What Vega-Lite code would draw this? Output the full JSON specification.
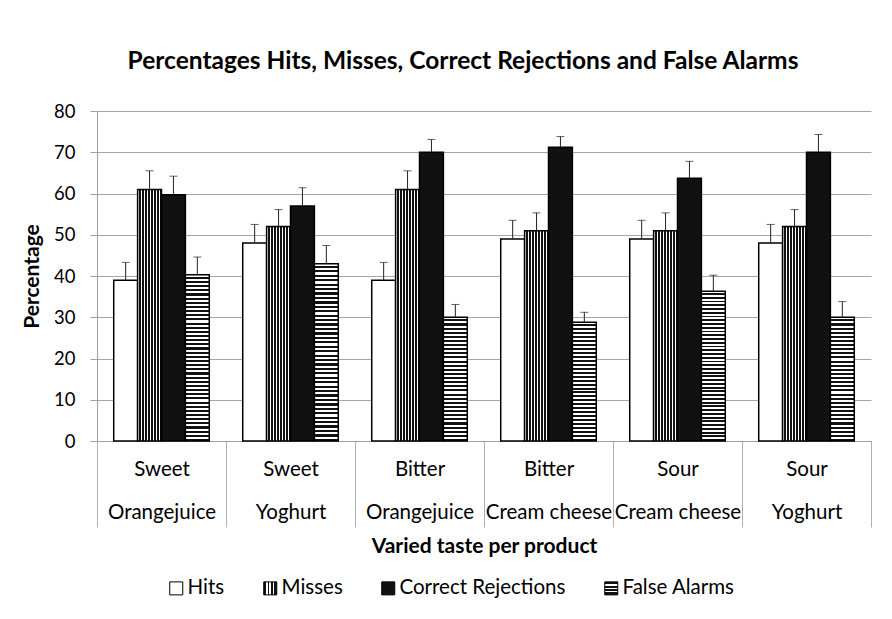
{
  "$schema": "https://vega.github.io/schema/vega-lite/v6.json",
  "width": 774,
  "height": 330,
  "autosize": "none",
  "padding": {"left": 97, "top": 111, "right": 21, "bottom": 178},
  "background": "white",
  "config": {
    "font": "Lato",
    "view": {"stroke": null}
  },
  "title": {
    "text": "Percentages Hits, Misses, Correct Rejections and False Alarms",
    "fontSize": 24.5,
    "fontWeight": "bold",
    "color": "#000",
    "anchor": "middle",
    "frame": "group",
    "dx": -21,
    "offset": 28
  },
  "params": [
    {"name": "gMiss", "value": {"gradient": "linear", "x1": 0, "y1": 0, "x2": 1, "y2": 0, "stops": [
      {"offset": 0, "color": "#fff"}, {"offset": 0.07, "color": "#fff"}, {"offset": 0.07, "color": "#111"}, {"offset": 0.125, "color": "#111"},
      {"offset": 0.125, "color": "#fff"}, {"offset": 0.195, "color": "#fff"}, {"offset": 0.195, "color": "#111"}, {"offset": 0.25, "color": "#111"},
      {"offset": 0.25, "color": "#fff"}, {"offset": 0.32, "color": "#fff"}, {"offset": 0.32, "color": "#111"}, {"offset": 0.375, "color": "#111"},
      {"offset": 0.375, "color": "#fff"}, {"offset": 0.445, "color": "#fff"}, {"offset": 0.445, "color": "#111"}, {"offset": 0.5, "color": "#111"},
      {"offset": 0.5, "color": "#fff"}, {"offset": 0.57, "color": "#fff"}, {"offset": 0.57, "color": "#111"}, {"offset": 0.625, "color": "#111"},
      {"offset": 0.625, "color": "#fff"}, {"offset": 0.695, "color": "#fff"}, {"offset": 0.695, "color": "#111"}, {"offset": 0.75, "color": "#111"},
      {"offset": 0.75, "color": "#fff"}, {"offset": 0.82, "color": "#fff"}, {"offset": 0.82, "color": "#111"}, {"offset": 0.875, "color": "#111"},
      {"offset": 0.875, "color": "#fff"}, {"offset": 0.945, "color": "#fff"}, {"offset": 0.945, "color": "#111"}, {"offset": 1, "color": "#111"}
    ]}},
    {"name": "gFA40", "value": {"gradient": "linear", "x1": 0, "y1": 0, "x2": 0, "y2": 1, "stops": [
      {"offset": 0, "color": "#fff"}, {"offset": 0.0125, "color": "#fff"}, {"offset": 0.0125, "color": "#111"}, {"offset": 0.025, "color": "#111"},
      {"offset": 0.025, "color": "#fff"}, {"offset": 0.0375, "color": "#fff"}, {"offset": 0.0375, "color": "#111"}, {"offset": 0.05, "color": "#111"},
      {"offset": 0.05, "color": "#fff"}, {"offset": 0.0625, "color": "#fff"}, {"offset": 0.0625, "color": "#111"}, {"offset": 0.075, "color": "#111"},
      {"offset": 0.075, "color": "#fff"}, {"offset": 0.0875, "color": "#fff"}, {"offset": 0.0875, "color": "#111"}, {"offset": 0.1, "color": "#111"},
      {"offset": 0.1, "color": "#fff"}, {"offset": 0.1125, "color": "#fff"}, {"offset": 0.1125, "color": "#111"}, {"offset": 0.125, "color": "#111"},
      {"offset": 0.125, "color": "#fff"}, {"offset": 0.1375, "color": "#fff"}, {"offset": 0.1375, "color": "#111"}, {"offset": 0.15, "color": "#111"},
      {"offset": 0.15, "color": "#fff"}, {"offset": 0.1625, "color": "#fff"}, {"offset": 0.1625, "color": "#111"}, {"offset": 0.175, "color": "#111"},
      {"offset": 0.175, "color": "#fff"}, {"offset": 0.1875, "color": "#fff"}, {"offset": 0.1875, "color": "#111"}, {"offset": 0.2, "color": "#111"},
      {"offset": 0.2, "color": "#fff"}, {"offset": 0.2125, "color": "#fff"}, {"offset": 0.2125, "color": "#111"}, {"offset": 0.225, "color": "#111"},
      {"offset": 0.225, "color": "#fff"}, {"offset": 0.2375, "color": "#fff"}, {"offset": 0.2375, "color": "#111"}, {"offset": 0.25, "color": "#111"},
      {"offset": 0.25, "color": "#fff"}, {"offset": 0.2625, "color": "#fff"}, {"offset": 0.2625, "color": "#111"}, {"offset": 0.275, "color": "#111"},
      {"offset": 0.275, "color": "#fff"}, {"offset": 0.2875, "color": "#fff"}, {"offset": 0.2875, "color": "#111"}, {"offset": 0.3, "color": "#111"},
      {"offset": 0.3, "color": "#fff"}, {"offset": 0.3125, "color": "#fff"}, {"offset": 0.3125, "color": "#111"}, {"offset": 0.325, "color": "#111"},
      {"offset": 0.325, "color": "#fff"}, {"offset": 0.3375, "color": "#fff"}, {"offset": 0.3375, "color": "#111"}, {"offset": 0.35, "color": "#111"},
      {"offset": 0.35, "color": "#fff"}, {"offset": 0.3625, "color": "#fff"}, {"offset": 0.3625, "color": "#111"}, {"offset": 0.375, "color": "#111"},
      {"offset": 0.375, "color": "#fff"}, {"offset": 0.3875, "color": "#fff"}, {"offset": 0.3875, "color": "#111"}, {"offset": 0.4, "color": "#111"},
      {"offset": 0.4, "color": "#fff"}, {"offset": 0.4125, "color": "#fff"}, {"offset": 0.4125, "color": "#111"}, {"offset": 0.425, "color": "#111"},
      {"offset": 0.425, "color": "#fff"}, {"offset": 0.4375, "color": "#fff"}, {"offset": 0.4375, "color": "#111"}, {"offset": 0.45, "color": "#111"},
      {"offset": 0.45, "color": "#fff"}, {"offset": 0.4625, "color": "#fff"}, {"offset": 0.4625, "color": "#111"}, {"offset": 0.475, "color": "#111"},
      {"offset": 0.475, "color": "#fff"}, {"offset": 0.4875, "color": "#fff"}, {"offset": 0.4875, "color": "#111"}, {"offset": 0.5, "color": "#111"},
      {"offset": 0.5, "color": "#fff"}, {"offset": 0.5125, "color": "#fff"}, {"offset": 0.5125, "color": "#111"}, {"offset": 0.525, "color": "#111"},
      {"offset": 0.525, "color": "#fff"}, {"offset": 0.5375, "color": "#fff"}, {"offset": 0.5375, "color": "#111"}, {"offset": 0.55, "color": "#111"},
      {"offset": 0.55, "color": "#fff"}, {"offset": 0.5625, "color": "#fff"}, {"offset": 0.5625, "color": "#111"}, {"offset": 0.575, "color": "#111"},
      {"offset": 0.575, "color": "#fff"}, {"offset": 0.5875, "color": "#fff"}, {"offset": 0.5875, "color": "#111"}, {"offset": 0.6, "color": "#111"},
      {"offset": 0.6, "color": "#fff"}, {"offset": 0.6125, "color": "#fff"}, {"offset": 0.6125, "color": "#111"}, {"offset": 0.625, "color": "#111"},
      {"offset": 0.625, "color": "#fff"}, {"offset": 0.6375, "color": "#fff"}, {"offset": 0.6375, "color": "#111"}, {"offset": 0.65, "color": "#111"},
      {"offset": 0.65, "color": "#fff"}, {"offset": 0.6625, "color": "#fff"}, {"offset": 0.6625, "color": "#111"}, {"offset": 0.675, "color": "#111"},
      {"offset": 0.675, "color": "#fff"}, {"offset": 0.6875, "color": "#fff"}, {"offset": 0.6875, "color": "#111"}, {"offset": 0.7, "color": "#111"},
      {"offset": 0.7, "color": "#fff"}, {"offset": 0.7125, "color": "#fff"}, {"offset": 0.7125, "color": "#111"}, {"offset": 0.725, "color": "#111"},
      {"offset": 0.725, "color": "#fff"}, {"offset": 0.7375, "color": "#fff"}, {"offset": 0.7375, "color": "#111"}, {"offset": 0.75, "color": "#111"},
      {"offset": 0.75, "color": "#fff"}, {"offset": 0.7625, "color": "#fff"}, {"offset": 0.7625, "color": "#111"}, {"offset": 0.775, "color": "#111"},
      {"offset": 0.775, "color": "#fff"}, {"offset": 0.7875, "color": "#fff"}, {"offset": 0.7875, "color": "#111"}, {"offset": 0.8, "color": "#111"},
      {"offset": 0.8, "color": "#fff"}, {"offset": 0.8125, "color": "#fff"}, {"offset": 0.8125, "color": "#111"}, {"offset": 0.825, "color": "#111"},
      {"offset": 0.825, "color": "#fff"}, {"offset": 0.8375, "color": "#fff"}, {"offset": 0.8375, "color": "#111"}, {"offset": 0.85, "color": "#111"},
      {"offset": 0.85, "color": "#fff"}, {"offset": 0.8625, "color": "#fff"}, {"offset": 0.8625, "color": "#111"}, {"offset": 0.875, "color": "#111"},
      {"offset": 0.875, "color": "#fff"}, {"offset": 0.8875, "color": "#fff"}, {"offset": 0.8875, "color": "#111"}, {"offset": 0.9, "color": "#111"},
      {"offset": 0.9, "color": "#fff"}, {"offset": 0.9125, "color": "#fff"}, {"offset": 0.9125, "color": "#111"}, {"offset": 0.925, "color": "#111"},
      {"offset": 0.925, "color": "#fff"}, {"offset": 0.9375, "color": "#fff"}, {"offset": 0.9375, "color": "#111"}, {"offset": 0.95, "color": "#111"},
      {"offset": 0.95, "color": "#fff"}, {"offset": 0.9625, "color": "#fff"}, {"offset": 0.9625, "color": "#111"}, {"offset": 0.975, "color": "#111"},
      {"offset": 0.975, "color": "#fff"}, {"offset": 0.9875, "color": "#fff"}, {"offset": 0.9875, "color": "#111"}, {"offset": 1, "color": "#111"}
    ]}},
    {"name": "gFA30", "value": {"gradient": "linear", "x1": 0, "y1": 0, "x2": 0, "y2": 1, "stops": [
      {"offset": 0, "color": "#fff"}, {"offset": 0.0167, "color": "#fff"}, {"offset": 0.0167, "color": "#111"}, {"offset": 0.0333, "color": "#111"},
      {"offset": 0.0333, "color": "#fff"}, {"offset": 0.05, "color": "#fff"}, {"offset": 0.05, "color": "#111"}, {"offset": 0.0667, "color": "#111"},
      {"offset": 0.0667, "color": "#fff"}, {"offset": 0.0833, "color": "#fff"}, {"offset": 0.0833, "color": "#111"}, {"offset": 0.1, "color": "#111"},
      {"offset": 0.1, "color": "#fff"}, {"offset": 0.1167, "color": "#fff"}, {"offset": 0.1167, "color": "#111"}, {"offset": 0.1333, "color": "#111"},
      {"offset": 0.1333, "color": "#fff"}, {"offset": 0.15, "color": "#fff"}, {"offset": 0.15, "color": "#111"}, {"offset": 0.1667, "color": "#111"},
      {"offset": 0.1667, "color": "#fff"}, {"offset": 0.1833, "color": "#fff"}, {"offset": 0.1833, "color": "#111"}, {"offset": 0.2, "color": "#111"},
      {"offset": 0.2, "color": "#fff"}, {"offset": 0.2167, "color": "#fff"}, {"offset": 0.2167, "color": "#111"}, {"offset": 0.2333, "color": "#111"},
      {"offset": 0.2333, "color": "#fff"}, {"offset": 0.25, "color": "#fff"}, {"offset": 0.25, "color": "#111"}, {"offset": 0.2667, "color": "#111"},
      {"offset": 0.2667, "color": "#fff"}, {"offset": 0.2833, "color": "#fff"}, {"offset": 0.2833, "color": "#111"}, {"offset": 0.3, "color": "#111"},
      {"offset": 0.3, "color": "#fff"}, {"offset": 0.3167, "color": "#fff"}, {"offset": 0.3167, "color": "#111"}, {"offset": 0.3333, "color": "#111"},
      {"offset": 0.3333, "color": "#fff"}, {"offset": 0.35, "color": "#fff"}, {"offset": 0.35, "color": "#111"}, {"offset": 0.3667, "color": "#111"},
      {"offset": 0.3667, "color": "#fff"}, {"offset": 0.3833, "color": "#fff"}, {"offset": 0.3833, "color": "#111"}, {"offset": 0.4, "color": "#111"},
      {"offset": 0.4, "color": "#fff"}, {"offset": 0.4167, "color": "#fff"}, {"offset": 0.4167, "color": "#111"}, {"offset": 0.4333, "color": "#111"},
      {"offset": 0.4333, "color": "#fff"}, {"offset": 0.45, "color": "#fff"}, {"offset": 0.45, "color": "#111"}, {"offset": 0.4667, "color": "#111"},
      {"offset": 0.4667, "color": "#fff"}, {"offset": 0.4833, "color": "#fff"}, {"offset": 0.4833, "color": "#111"}, {"offset": 0.5, "color": "#111"},
      {"offset": 0.5, "color": "#fff"}, {"offset": 0.5167, "color": "#fff"}, {"offset": 0.5167, "color": "#111"}, {"offset": 0.5333, "color": "#111"},
      {"offset": 0.5333, "color": "#fff"}, {"offset": 0.55, "color": "#fff"}, {"offset": 0.55, "color": "#111"}, {"offset": 0.5667, "color": "#111"},
      {"offset": 0.5667, "color": "#fff"}, {"offset": 0.5833, "color": "#fff"}, {"offset": 0.5833, "color": "#111"}, {"offset": 0.6, "color": "#111"},
      {"offset": 0.6, "color": "#fff"}, {"offset": 0.6167, "color": "#fff"}, {"offset": 0.6167, "color": "#111"}, {"offset": 0.6333, "color": "#111"},
      {"offset": 0.6333, "color": "#fff"}, {"offset": 0.65, "color": "#fff"}, {"offset": 0.65, "color": "#111"}, {"offset": 0.6667, "color": "#111"},
      {"offset": 0.6667, "color": "#fff"}, {"offset": 0.6833, "color": "#fff"}, {"offset": 0.6833, "color": "#111"}, {"offset": 0.7, "color": "#111"},
      {"offset": 0.7, "color": "#fff"}, {"offset": 0.7167, "color": "#fff"}, {"offset": 0.7167, "color": "#111"}, {"offset": 0.7333, "color": "#111"},
      {"offset": 0.7333, "color": "#fff"}, {"offset": 0.75, "color": "#fff"}, {"offset": 0.75, "color": "#111"}, {"offset": 0.7667, "color": "#111"},
      {"offset": 0.7667, "color": "#fff"}, {"offset": 0.7833, "color": "#fff"}, {"offset": 0.7833, "color": "#111"}, {"offset": 0.8, "color": "#111"},
      {"offset": 0.8, "color": "#fff"}, {"offset": 0.8167, "color": "#fff"}, {"offset": 0.8167, "color": "#111"}, {"offset": 0.8333, "color": "#111"},
      {"offset": 0.8333, "color": "#fff"}, {"offset": 0.85, "color": "#fff"}, {"offset": 0.85, "color": "#111"}, {"offset": 0.8667, "color": "#111"},
      {"offset": 0.8667, "color": "#fff"}, {"offset": 0.8833, "color": "#fff"}, {"offset": 0.8833, "color": "#111"}, {"offset": 0.9, "color": "#111"},
      {"offset": 0.9, "color": "#fff"}, {"offset": 0.9167, "color": "#fff"}, {"offset": 0.9167, "color": "#111"}, {"offset": 0.9333, "color": "#111"},
      {"offset": 0.9333, "color": "#fff"}, {"offset": 0.95, "color": "#fff"}, {"offset": 0.95, "color": "#111"}, {"offset": 0.9667, "color": "#111"},
      {"offset": 0.9667, "color": "#fff"}, {"offset": 0.9833, "color": "#fff"}, {"offset": 0.9833, "color": "#111"}, {"offset": 1, "color": "#111"}
    ]}},
    {"name": "gLegMiss", "value": {"gradient": "linear", "x1": 0, "y1": 0, "x2": 1, "y2": 0, "stops": [
      {"offset": 0, "color": "#111"}, {"offset": 0.2, "color": "#111"}, {"offset": 0.2, "color": "#fff"}, {"offset": 0.32, "color": "#fff"},
      {"offset": 0.32, "color": "#111"}, {"offset": 0.44, "color": "#111"}, {"offset": 0.44, "color": "#fff"}, {"offset": 0.56, "color": "#fff"},
      {"offset": 0.56, "color": "#111"}, {"offset": 0.68, "color": "#111"}, {"offset": 0.68, "color": "#fff"}, {"offset": 0.8, "color": "#fff"},
      {"offset": 0.8, "color": "#111"}, {"offset": 1, "color": "#111"}
    ]}},
    {"name": "gLegFA", "value": {"gradient": "linear", "x1": 0, "y1": 0, "x2": 0, "y2": 1, "stops": [
      {"offset": 0, "color": "#111"}, {"offset": 0.2, "color": "#111"}, {"offset": 0.2, "color": "#fff"}, {"offset": 0.32, "color": "#fff"},
      {"offset": 0.32, "color": "#111"}, {"offset": 0.44, "color": "#111"}, {"offset": 0.44, "color": "#fff"}, {"offset": 0.56, "color": "#fff"},
      {"offset": 0.56, "color": "#111"}, {"offset": 0.68, "color": "#111"}, {"offset": 0.68, "color": "#fff"}, {"offset": 0.8, "color": "#fff"},
      {"offset": 0.8, "color": "#111"}, {"offset": 1, "color": "#111"}
    ]}}
  ],
  "data": {
    "values": [
      {"condition": "Sweet|Orangejuice", "measure": "Hits", "value": 39, "upper": 43.3},
      {"condition": "Sweet|Orangejuice", "measure": "Misses", "value": 61, "upper": 65.5},
      {"condition": "Sweet|Orangejuice", "measure": "Correct Rejections", "value": 59.7, "upper": 64.2},
      {"condition": "Sweet|Orangejuice", "measure": "False Alarms", "value": 40.3, "upper": 44.6},
      {"condition": "Sweet|Yoghurt", "measure": "Hits", "value": 48, "upper": 52.5},
      {"condition": "Sweet|Yoghurt", "measure": "Misses", "value": 52, "upper": 56.1},
      {"condition": "Sweet|Yoghurt", "measure": "Correct Rejections", "value": 57, "upper": 61.4},
      {"condition": "Sweet|Yoghurt", "measure": "False Alarms", "value": 43, "upper": 47.4},
      {"condition": "Bitter|Orangejuice", "measure": "Hits", "value": 39, "upper": 43.3},
      {"condition": "Bitter|Orangejuice", "measure": "Misses", "value": 61, "upper": 65.5},
      {"condition": "Bitter|Orangejuice", "measure": "Correct Rejections", "value": 70, "upper": 73.1},
      {"condition": "Bitter|Orangejuice", "measure": "False Alarms", "value": 30, "upper": 33.1},
      {"condition": "Bitter|Cream cheese", "measure": "Hits", "value": 49, "upper": 53.5},
      {"condition": "Bitter|Cream cheese", "measure": "Misses", "value": 51, "upper": 55.3},
      {"condition": "Bitter|Cream cheese", "measure": "Correct Rejections", "value": 71.2, "upper": 73.8},
      {"condition": "Bitter|Cream cheese", "measure": "False Alarms", "value": 28.8, "upper": 31.2},
      {"condition": "Sour|Cream cheese", "measure": "Hits", "value": 49, "upper": 53.5},
      {"condition": "Sour|Cream cheese", "measure": "Misses", "value": 51, "upper": 55.3},
      {"condition": "Sour|Cream cheese", "measure": "Correct Rejections", "value": 63.7, "upper": 67.8},
      {"condition": "Sour|Cream cheese", "measure": "False Alarms", "value": 36.3, "upper": 40.2},
      {"condition": "Sour|Yoghurt", "measure": "Hits", "value": 48, "upper": 52.5},
      {"condition": "Sour|Yoghurt", "measure": "Misses", "value": 52, "upper": 56.1},
      {"condition": "Sour|Yoghurt", "measure": "Correct Rejections", "value": 70, "upper": 74.3},
      {"condition": "Sour|Yoghurt", "measure": "False Alarms", "value": 30, "upper": 33.8}
    ]
  },
  "encoding": {
    "x": {
      "field": "condition",
      "type": "nominal",
      "sort": null,
      "scale": {"paddingInner": 0, "paddingOuter": 0},
      "axis": {
        "title": "Varied taste per product",
        "titleFontSize": 21,
        "titleFontWeight": "bold",
        "titleColor": "#000",
        "titlePadding": 8,
        "labelExpr": "split(datum.label, '|')",
        "labelAngle": 0,
        "labelFontSize": 20.5,
        "labelColor": "#000",
        "labelLineHeight": 43,
        "labelBaseline": "top",
        "labelPadding": -68,
        "tickBand": "extent",
        "tickSize": 86,
        "tickColor": "#b0b0b0",
        "domainColor": "#a0a0a0"
      }
    },
    "xOffset": {
      "field": "measure",
      "type": "nominal",
      "sort": ["Hits", "Misses", "Correct Rejections", "False Alarms"],
      "scale": {"paddingInner": 0, "paddingOuter": 0.7}
    }
  },
  "layer": [
    {
      "mark": {"type": "bar", "stroke": "#000", "strokeWidth": 1.5, "opacity": 1},
      "encoding": {
        "y": {
          "field": "value",
          "type": "quantitative",
          "scale": {"domain": [0, 80], "nice": false},
          "axis": {
            "title": "Percentage",
            "titleFontSize": 21,
            "titleFontWeight": "bold",
            "titleColor": "#000",
            "titlePadding": 11,
            "values": [0, 10, 20, 30, 40, 50, 60, 70, 80],
            "labelFontSize": 18.5,
            "labelColor": "#000",
            "labelPadding": 15,
            "tickSize": 7,
            "tickColor": "#a0a0a0",
            "domainColor": "#a0a0a0",
            "grid": true,
            "gridColor": "#a6a6a6"
          }
        },
        "fill": {
          "field": "measure",
          "type": "nominal",
          "sort": ["Hits", "Misses", "Correct Rejections", "False Alarms"],
          "scale": {
            "domain": ["Hits", "Misses", "Correct Rejections", "False Alarms"],
            "range": ["#ffffff", {"expr": "gLegMiss"}, "#111111", {"expr": "gLegFA"}]
          },
          "condition": [
            {"test": "datum.measure === 'Misses'", "value": {"expr": "gMiss"}},
            {"test": "datum.measure === 'False Alarms' && datum.value >= 35", "value": {"expr": "gFA40"}},
            {"test": "datum.measure === 'False Alarms'", "value": {"expr": "gFA30"}}
          ],
          "legend": {
            "title": null,
            "orient": "none",
            "legendX": 69,
            "legendY": 467,
            "direction": "horizontal",
            "symbolType": "square",
            "symbolSize": 169,
            "symbolStrokeColor": "#000",
            "symbolStrokeWidth": 1,
            "symbolOpacity": 1,
            "labelFontSize": 20.5,
            "labelColor": "#000",
            "labelLimit": 400,
            "labelOffset": 1,
            "columnPadding": 35
          }
        }
      }
    },
    {
      "mark": {"type": "rule", "color": "#222", "strokeWidth": 1},
      "encoding": {
        "y": {"field": "value", "type": "quantitative"},
        "y2": {"field": "upper"}
      }
    },
    {
      "mark": {"type": "tick", "color": "#222", "thickness": 1, "size": 8, "orient": "horizontal"},
      "encoding": {
        "y": {"field": "upper", "type": "quantitative"}
      }
    }
  ]
}
